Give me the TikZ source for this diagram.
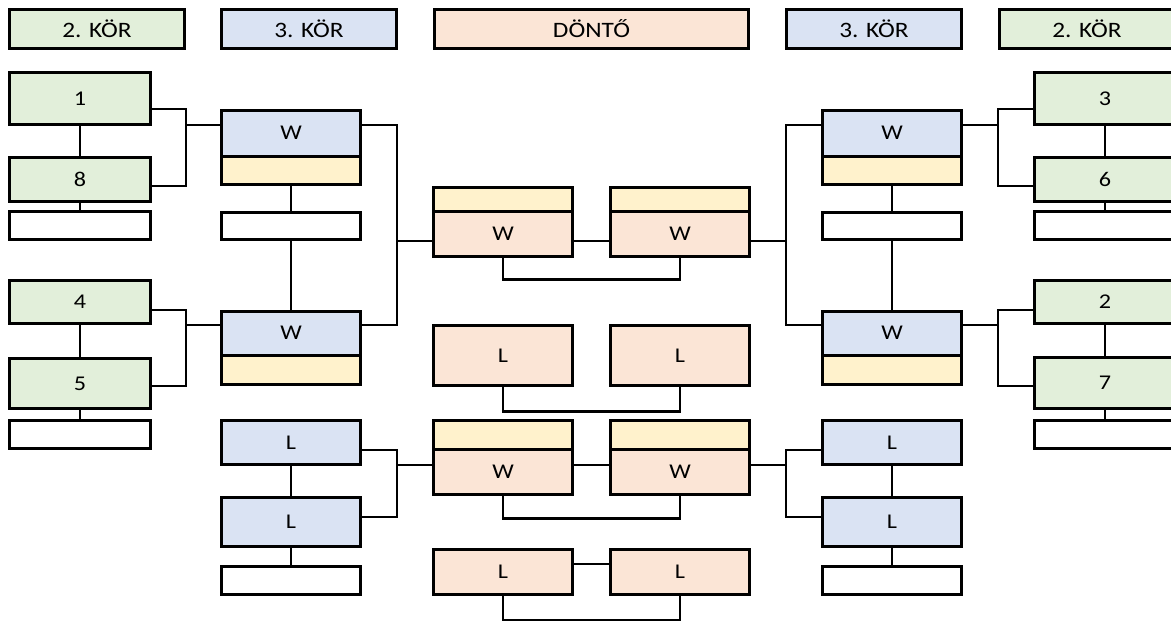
\documentclass[tikz,border=0pt]{standalone}
\usepackage{fontspec}
\setmainfont{Carlito}[FakeStretch=1.15]
\usetikzlibrary{calc}

\definecolor{zold}{HTML}{E2EFDA}
\definecolor{kek}{HTML}{DAE3F3}
\definecolor{sarga}{HTML}{FFF2CC}
\definecolor{rozsa}{HTML}{FBE5D6}

\begin{document}
\begin{tikzpicture}[x=1pt, y=-1pt,
    box/.style={draw=black, line width=3pt, inner sep=0pt, minimum width=139pt,
      font=\fontsize{21}{22}\selectfont},
    kor2/.style={box, fill=zold, minimum width=141pt},
    ures/.style={box, fill=white},
    cim/.style={box, minimum width=175pt, minimum height=39pt,
      font=\fontsize{22}{23}\selectfont},
    vonal/.style={line width=2.2pt}]
  \useasboundingbox (0,0) rectangle (1171,621);

  % Fejlécek
  \node[cim, fill=zold] (h2b) at (97,29) {2. KÖR};
  \node[cim, fill=kek] (h3b) at (309,29) {3. KÖR};
  \node[cim, fill=rozsa, minimum width=314pt] (hd) at (591.5,29) {DÖNTŐ};
  \node[cim, fill=kek] (h3j) at (874,29) {3. KÖR};
  \node[cim, fill=zold] (h2j) at (1087,29) {2. KÖR};

  % 2. kör, bal oldal
  \node[kor2, minimum height=52pt] (k1) at (80,98.5) {1};
  \node[kor2, minimum height=44pt] (k8) at (80,179.5) {8};
  \node[ures, minimum width=141pt, minimum height=28pt] (u8) at (80,225.5) {};
  \node[kor2, minimum height=43pt] (k4) at (80,302) {4};
  \node[kor2, minimum height=50pt] (k5) at (80,383.5) {5};
  \node[ures, minimum width=141pt, minimum height=28pt] (u5) at (80,434.5) {};

  % 2. kör, jobb oldal
  \node[kor2, minimum height=52pt] (k3) at (1105,98.5) {3};
  \node[kor2, minimum height=44pt] (k6) at (1105,179.5) {6};
  \node[ures, minimum width=141pt, minimum height=28pt] (u6) at (1105,225.5) {};
  \node[kor2, minimum height=43pt] (k2) at (1105,302) {2};
  \node[kor2, minimum height=51pt] (k7) at (1105,383) {7};
  \node[ures, minimum width=141pt, minimum height=28pt] (u7) at (1105,434.5) {};

  % 3. kör, bal oldal
  \node[box, fill=kek, minimum height=45.5pt] (w1) at (291,133.25) {W};
  \node[box, fill=sarga, minimum height=28.5pt] (w1s) at (291,170.25) {};
  \node[ures, minimum height=27pt] (w1u) at (291,226) {};
  \node[box, fill=kek, minimum height=43.5pt] (w2) at (291,333.25) {W};
  \node[box, fill=sarga, minimum height=29.5pt] (w2s) at (291,369.75) {};
  \node[box, fill=kek, minimum height=44pt] (l1) at (291,442.5) {L};
  \node[box, fill=kek, minimum height=49pt] (l2) at (291,522) {L};
  \node[ures, minimum height=28pt] (l2u) at (291,580.5) {};

  % 3. kör, jobb oldal
  \node[box, fill=kek, minimum height=45.5pt] (v1) at (892,133.25) {W};
  \node[box, fill=sarga, minimum height=28.5pt] (v1s) at (892,170.25) {};
  \node[ures, minimum height=27pt] (v1u) at (892,226) {};
  \node[box, fill=kek, minimum height=43.5pt] (v2) at (892,333.25) {W};
  \node[box, fill=sarga, minimum height=29.5pt] (v2s) at (892,369.75) {};
  \node[box, fill=kek, minimum height=44pt] (m1) at (892,442.5) {L};
  \node[box, fill=kek, minimum height=49pt] (m2) at (892,522) {L};
  \node[ures, minimum height=28pt] (m2u) at (892,580.5) {};

  % Döntő
  \node[box, fill=sarga, minimum height=23.5pt] (fy1) at (503,199.25) {};
  \node[box, fill=rozsa, minimum height=45.5pt] (fw1) at (503,233.75) {W};
  \node[box, fill=sarga, minimum height=23.5pt] (fy2) at (680,199.25) {};
  \node[box, fill=rozsa, minimum height=45.5pt] (fw2) at (680,233.75) {W};
  \node[box, fill=rozsa, minimum height=60pt] (fl1) at (503,355.5) {L};
  \node[box, fill=rozsa, minimum height=60pt] (fl2) at (680,355.5) {L};
  \node[box, fill=sarga, minimum height=28.5pt] (fy3) at (503,434.75) {};
  \node[box, fill=rozsa, minimum height=45.5pt] (fw3) at (503,471.75) {W};
  \node[box, fill=sarga, minimum height=28.5pt] (fy4) at (680,434.75) {};
  \node[box, fill=rozsa, minimum height=45.5pt] (fw4) at (680,471.75) {W};
  \node[box, fill=rozsa, minimum height=45pt] (fl3) at (503,572) {L};
  \node[box, fill=rozsa, minimum height=45pt] (fl4) at (680,572) {L};

  % Csomópontok
  \coordinate (bj1) at (186,125);
  \coordinate (bj2) at (186,325);
  \coordinate (dj1) at (397,241);
  \coordinate (dj2) at (397,465);
  \coordinate (jj1) at (786,241);
  \coordinate (jj2) at (786,465);
  \coordinate (kj1) at (998,125);
  \coordinate (kj2) at (998,325);

  % Függőleges vonalak
  \draw[vonal] (k1) -- (k8);
  \draw[vonal] (k8) -- (u8);
  \draw[vonal] (k4) -- (k5);
  \draw[vonal] (k5) -- (u5);
  \draw[vonal] (k3) -- (k6);
  \draw[vonal] (k6) -- (u6);
  \draw[vonal] (k2) -- (k7);
  \draw[vonal] (k7) -- (u7);
  \draw[vonal] (w1s) -- (w1u);
  \draw[vonal] (w1u) -- (w2);
  \draw[vonal] (l1) -- (l2);
  \draw[vonal] (l2) -- (l2u);
  \draw[vonal] (v1s) -- (v1u);
  \draw[vonal] (v1u) -- (v2);
  \draw[vonal] (m1) -- (m2);
  \draw[vonal] (m2) -- (m2u);

  % Ágak, bal oldal
  \draw[vonal] ([yshift=-10.5pt]k1.east) -| (bj1) |- ([yshift=-6.5pt]k8.east);
  \draw[vonal] (bj1) -- (bj1 -| w1.west);
  \draw[vonal] ([yshift=-8pt]k4.east) -| (bj2) |- ([yshift=-2.5pt]k5.east);
  \draw[vonal] (bj2) -- (bj2 -| w2.west);
  \draw[vonal] ([yshift=8.25pt]w1.east) -| (dj1) |- ([yshift=8.25pt]w2.east);
  \draw[vonal] (dj1) -- (dj1 -| fw1.west);
  \draw[vonal] ([yshift=-7.5pt]l1.east) -| (dj2) |- ([yshift=5pt]l2.east);
  \draw[vonal] (dj2) -- (dj2 -| fw3.west);

  % Ágak, jobb oldal
  \draw[vonal] ([yshift=-10.5pt]k3.west) -| (kj1) |- ([yshift=-6.5pt]k6.west);
  \draw[vonal] (kj1) -- (kj1 -| v1.east);
  \draw[vonal] ([yshift=-8pt]k2.west) -| (kj2) |- ([yshift=-3pt]k7.west);
  \draw[vonal] (kj2) -- (kj2 -| v2.east);
  \draw[vonal] ([yshift=8.25pt]v1.west) -| (jj1) |- ([yshift=8.25pt]v2.west);
  \draw[vonal] (jj1) -- (jj1 -| fw2.east);
  \draw[vonal] ([yshift=-7.5pt]m1.west) -| (jj2) |- ([yshift=5pt]m2.west);
  \draw[vonal] (jj2) -- (jj2 -| fw4.east);

  % Döntő párok
  \draw[vonal] (dj1 -| fw1.east) -- (dj1 -| fw2.west);
  \draw[vonal] (fw1.south) -- ++(0,21.5) -| (fw2.south);
  \draw[vonal] (fl1.south) -- ++(0,24.5) -| (fl2.south);
  \draw[vonal] (dj2 -| fw3.east) -- (dj2 -| fw4.west);
  \draw[vonal] (fw3.south) -- ++(0,22.5) -| (fw4.south);
  \draw[vonal] ([yshift=8pt]fl3.east) -- ([yshift=8pt]fl4.west);
  \draw[vonal] (fl3.south) -- ++(0,24.5) -| (fl4.south);
\end{tikzpicture}
\end{document}
